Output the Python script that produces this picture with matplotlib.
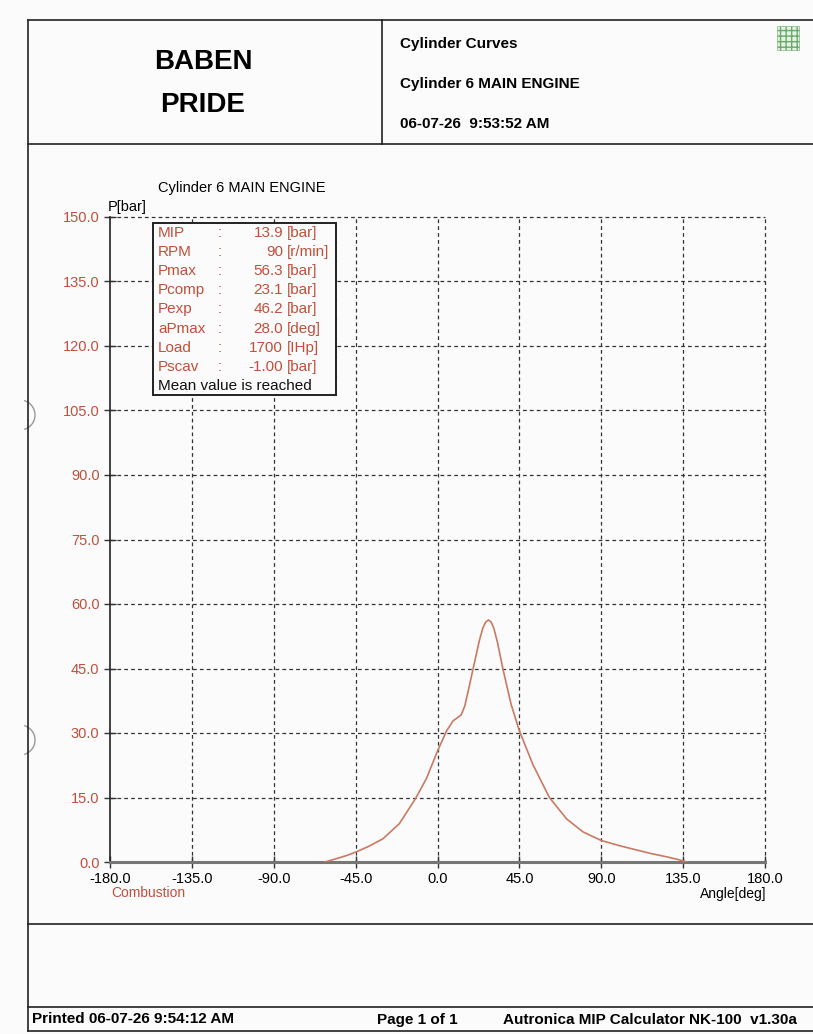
import matplotlib.pyplot as plt
from matplotlib.patches import Rectangle, Arc
from matplotlib.lines import Line2D

W, H = 813, 1034

# curve
angle = [-62, -57, -50, -45, -38, -30, -21, -12, -6, 0, 5, 8.5, 13, 15, 17, 19.5,
         23, 25, 26.5, 28, 29.5, 31, 33, 36, 40.5, 45, 52.5, 61.5, 71, 80, 90, 100,
         107.5, 117, 126, 132, 137]
pressure = [0, 0.6, 1.5, 2.3, 3.6, 5.4, 8.9, 14.8, 19.5, 25.8, 30.5, 32.8, 34.2, 36.3,
            40.0, 44.8, 51.5, 54.5, 55.8, 56.3, 55.8, 54.3, 51.0, 44.8, 36.6, 30.5,
            22.6, 15.0, 10.0, 7.0, 5.0, 3.8, 3.0, 2.0, 1.2, 0.6, 0]

xticks = [-180, -135, -90, -45, 0, 45, 90, 135, 180]
yticks = [0, 15, 30, 45, 60, 75, 90, 105, 120, 135, 150]

names = ["MIP", "RPM", "Pmax", "Pcomp", "Pexp", "aPmax", "Load", "Pscav"]
values = ["13.9", "90", "56.3", "23.1", "46.2", "28.0", "1700", "-1.00"]
units = ["[bar]", "[r/min]", "[bar]", "[bar]", "[bar]", "[deg]", "[IHp]", "[bar]"]

red = '#c0503c'
curve_col = '#c87a62'
plt.rcParams['font.family'] = ['Liberation Sans', 'DejaVu Sans']

fig = plt.figure(figsize=(W / 100, H / 100), dpi=100)
fig.patch.set_facecolor('#fbfbfb')


def fx(px):
    return px / W


def fy(py):
    return 1 - py / H


def hline(y, x0, x1, lw=1.2, c='#222222'):
    fig.add_artist(Line2D([fx(x0), fx(x1)], [fy(y), fy(y)], lw=lw, color=c))


def vline(x, y0, y1, lw=1.2, c='#222222'):
    fig.add_artist(Line2D([fx(x), fx(x)], [fy(y0), fy(y1)], lw=lw, color=c))


# page frame
hline(20, 28, 813)
hline(144, 28, 813)
hline(924, 28, 813)
hline(1007, 28, 813)
hline(1031, 28, 813)
vline(28, 20, 1031)
vline(382, 20, 144)

# punch-hole marks on the left edge
for yy in (415, 740):
    fig.add_artist(Arc((fx(20), fy(yy)), 30 / W, 30 / H, theta1=-70, theta2=70,
                       color='#999999', lw=1))

# header
fig.text(fx(203), fy(62), "BABEN", ha='center', va='center', fontsize=20,
         fontweight='bold')
fig.text(fx(203), fy(105), "PRIDE", ha='center', va='center', fontsize=20,
         fontweight='bold')
fig.text(fx(400), fy(44), "Cylinder Curves", ha='left', va='center', fontsize=11,
         fontweight='bold')
fig.text(fx(400), fy(84), "Cylinder 6 MAIN ENGINE", ha='left', va='center',
         fontsize=11, fontweight='bold')
fig.text(fx(400), fy(124), "06-07-26  9:53:52 AM", ha='left', va='center',
         fontsize=11, fontweight='bold')
fig.add_artist(Rectangle((fx(777), fy(50)), fx(22), 24 / H, facecolor='#e6f2e6',
                         edgecolor='#6aaa6a', hatch='+++', lw=0.4))

# footer
fig.text(fx(32), fy(1019), "Printed 06-07-26 9:54:12 AM", ha='left', va='center',
         fontsize=11, fontweight='bold')
fig.text(fx(377), fy(1020), "Page 1 of 1", ha='left', va='center',
         fontsize=11, fontweight='bold')
fig.text(fx(503), fy(1020), "Autronica MIP Calculator NK-100  v1.30a", ha='left',
         va='center', fontsize=11, fontweight='bold')

# chart
ax = fig.add_axes([fx(110), fy(862), fx(765) - fx(110), fy(217) - fy(862)])
ax.set_facecolor('none')
ax.set_xlim(-180, 180)
ax.set_ylim(0, 150)
for s in ['top', 'right']:
    ax.spines[s].set_visible(False)
ax.spines['left'].set_color('#222222')
ax.spines['left'].set_linewidth(1.2)
ax.spines['bottom'].set_color('#777777')
ax.spines['bottom'].set_linewidth(2.2)

for xv in xticks[1:]:
    ax.axvline(xv, color='#333333', lw=0.9, ls=(0, (3, 2.5)), zorder=1, clip_on=False)
for yv in yticks[1:]:
    ax.axhline(yv, color='#333333', lw=0.9, ls=(0, (3, 2.5)), zorder=1, clip_on=False)

ax.set_xticks(xticks)
ax.set_xticklabels([f"{v:.1f}" for v in xticks], fontsize=10.5)
ax.set_yticks(yticks)
ax.set_yticklabels([f"{v:.1f}" for v in yticks], fontsize=10.5, color=red)
ax.tick_params(axis='both', direction='inout', length=9, width=1, color='#333333')
ax.tick_params(axis='x', pad=3)
ax.tick_params(axis='y', pad=3)

ax.plot(angle, pressure, color=curve_col, lw=1.2, zorder=3)

fig.text(fx(158), fy(188), "Cylinder 6 MAIN ENGINE", ha='left', va='center', fontsize=10.5)
fig.text(fx(108), fy(207), "P[bar]", ha='left', va='center', fontsize=10.5)
fig.text(fx(111), fy(893), "Combustion", ha='left', va='center', fontsize=10, color=red)
fig.text(fx(766), fy(894), "Angle[deg]", ha='right', va='center', fontsize=10)

# info box
bx0, bx1, by0, rh = 153, 336, 223, 19.1
nrows = len(names) + 1
fig.add_artist(Rectangle((fx(bx0), fy(by0 + rh * nrows)), fx(bx1) - fx(bx0),
                         rh * nrows / H, facecolor='#fbfbfb', edgecolor='#222222',
                         lw=1.4, zorder=5))
for i in range(1, nrows):
    hline(by0 + rh * i, bx0, bx1, lw=0.8, c='#444444')
for i, (n, v, u) in enumerate(zip(names, values, units)):
    yc = fy(by0 + rh * i + rh / 2 + 0.5)
    fig.text(fx(158), yc, n, ha='left', va='center', fontsize=11, color=red, zorder=6)
    fig.text(fx(218), yc, ":", ha='left', va='center', fontsize=11, color=red, zorder=6)
    fig.text(fx(283), yc, v, ha='right', va='center', fontsize=11, color=red, zorder=6)
    fig.text(fx(287), yc, u, ha='left', va='center', fontsize=11, color=red, zorder=6)
fig.text(fx(158), fy(by0 + rh * 8 + rh / 2 + 0.5), "Mean value is reached", ha='left',
         va='center', fontsize=11, color='#111111', zorder=6)

fig.savefig('out.png', dpi=100, facecolor=fig.get_facecolor())
